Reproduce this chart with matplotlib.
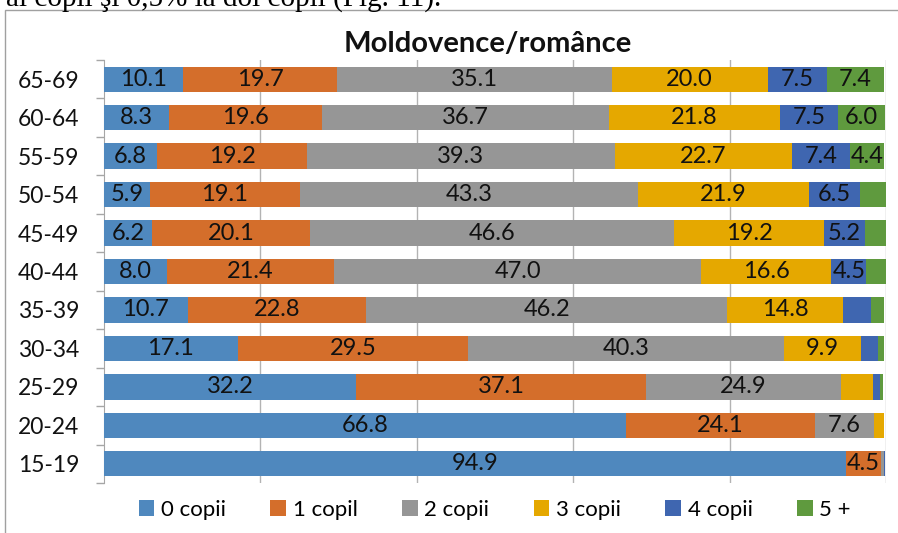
import numpy as np
import matplotlib
matplotlib.use('Agg')
import matplotlib.pyplot as plt
from matplotlib.patches import Rectangle

# age groups, bottom to top
ages = ['15-19', '20-24', '25-29', '30-34', '35-39', '40-44',
        '45-49', '50-54', '55-59', '60-64', '65-69']
series = ['0 copii', '1 copil', '2 copii', '3 copii', '4 copii', '5 +']

c0 = [94.9, 66.8, 32.2, 17.1, 10.7, 8.0, 6.2, 5.9, 6.8, 8.3, 10.1]
c1 = [4.5, 24.1, 37.1, 29.5, 22.8, 21.4, 20.1, 19.1, 19.2, 19.6, 19.7]
c2 = [0.4, 7.6, 24.9, 40.3, 46.2, 47.0, 46.6, 43.3, 39.3, 36.7, 35.1]
c3 = [0.0, 1.2, 4.2, 9.9, 14.8, 16.6, 19.2, 21.9, 22.7, 21.8, 20.0]
c4 = [0.1, 0.0, 0.8, 2.2, 3.6, 4.5, 5.2, 6.5, 7.4, 7.5, 7.5]
c5 = [0.0, 0.1, 0.4, 0.8, 1.7, 2.5, 2.7, 3.3, 4.4, 6.0, 7.4]

colors = ['#4f88be', '#d46e2b', '#969696', '#e5a800', '#3f66b0', '#5f9a3e']
min_label = 4.3

plt.rcParams['font.family'] = ['Lato', 'DejaVu Sans']

fig = plt.figure(figsize=(8.98, 5.33), dpi=100)
ax = fig.add_axes([104 / 898, 1 - 483 / 533, 782 / 898, 423 / 533])

y = np.arange(len(ages))
left = np.zeros(len(ages))
for name, vals, col in zip(series, [c0, c1, c2, c3, c4, c5], colors):
    vals = np.array(vals)
    bars = ax.barh(y, vals, left=left, height=0.66, color=col, label=name, zorder=3)
    for b, v in zip(bars, vals):
        if v >= min_label:
            ax.text(b.get_x() + b.get_width() / 2, b.get_y() + b.get_height() / 2,
                    f'{v:.1f}', ha='center', va='center', fontsize=17,
                    color='#111111', zorder=4)
    left += vals

ax.set_xlim(0, 100)
ax.set_ylim(-0.5, len(ages) - 0.5)
ax.set_xticks([20, 40, 60, 80, 100])
ax.tick_params(axis='x', length=0, labelbottom=False)
ax.grid(axis='x', color='#b3b3b3', linewidth=1, zorder=0)

ax.set_yticks(y)
ax.set_yticklabels(ages, fontsize=16.5, color='#111111')
ax.set_yticks(np.arange(-0.5, len(ages)), minor=True)
ax.tick_params(axis='y', which='major', length=0, pad=18)
ax.tick_params(axis='y', which='minor', length=6, width=1, color='#a6a6a6', direction='out')

for s in ['top', 'right', 'bottom']:
    ax.spines[s].set_visible(False)
ax.spines['left'].set_color('#a6a6a6')

fig.text(488 / 898, 1 - 44 / 533, 'Moldovence/românce', ha='center', va='center',
         fontsize=21, fontweight='bold', color='#111111')

leg = fig.legend(loc='center', bbox_to_anchor=(0.551, 1 - 510 / 533), ncol=6,
                 frameon=False, fontsize=16, handlelength=0.7, handleheight=0.7,
                 handletextpad=0.3, columnspacing=2.0)

# chart frame
fig.patches.append(Rectangle((5 / 898, -0.02), 1.0, 1 - 10 / 533 + 0.02,
                             transform=fig.transFigure, fill=False,
                             edgecolor='#a0a0a0', linewidth=1))

# text of the page above the chart, cut off at the top
fig.text(6 / 898, 1 - 5.7 / 533, 'ai copii şi 0,5% la doi copii (Fig. 11).',
         ha='left', va='baseline', fontsize=21, family='Liberation Serif', color='black')

fig.savefig('out.png', dpi=100)
